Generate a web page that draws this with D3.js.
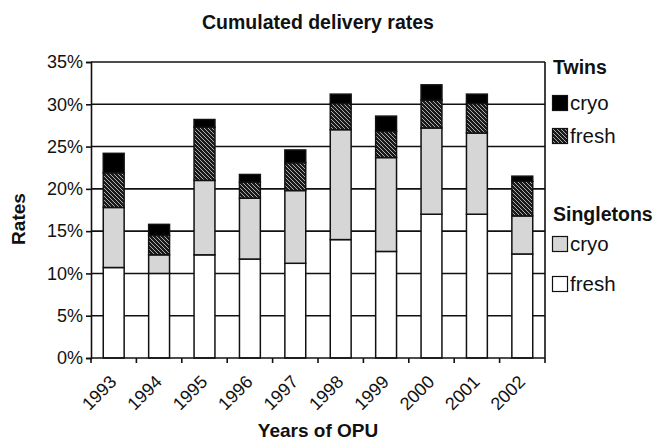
<!DOCTYPE html>
<html>
<head>
<meta charset="utf-8">
<script src="https://cdn.jsdelivr.net/npm/d3@7"></script>
<style>
  body { margin: 0; background: #fff; }
  svg { display: block; }
  text { font-family: "Liberation Sans", Arial, sans-serif; fill: #111; }
</style>
</head>
<body>
<svg id="chart" width="655" height="440"></svg>
<script>
// ---- data (percent) ----
const years = ["1993","1994","1995","1996","1997","1998","1999","2000","2001","2002"];
const singletonsFresh = [10.7, 10.0, 12.2, 11.7, 11.2, 14.0, 12.6, 17.0, 17.0, 12.3];
const singletonsCryo  = [7.1, 2.2, 8.8, 7.2, 8.6, 13.0, 11.1, 10.2, 9.6, 4.5];
const twinsFresh      = [4.1, 2.3, 6.3, 1.9, 3.3, 3.1, 3.1, 3.3, 3.5, 4.1];
const twinsCryo       = [2.3, 1.3, 0.9, 0.9, 1.5, 1.1, 1.8, 1.8, 1.1, 0.6];
const yTicks = [0, 5, 10, 15, 20, 25, 30, 35];
const seriesKeys = ["sFresh", "sCryo", "tFresh", "tCryo"];

const rows = years.map((y, i) => ({
  year: y, sFresh: singletonsFresh[i], sCryo: singletonsCryo[i],
  tFresh: twinsFresh[i], tCryo: twinsCryo[i]
}));

const W = 655, H = 440;
const m = { left: 91, right: 110, top: 62, bottom: 82 };
const svg = d3.select("#chart");

const defs = svg.append("defs");
const pat = defs.append("pattern").attr("id", "hatch")
  .attr("patternUnits", "userSpaceOnUse").attr("width", 4).attr("height", 4);
pat.append("rect").attr("width", 4).attr("height", 4).attr("fill", "#1a1a1a");
pat.append("path").attr("d", "M-1,-1 L5,5 M-1,3 L1,5 M3,-1 L5,1")
  .attr("stroke", "#bdbdbd").attr("stroke-width", 0.9);

const fills = { sFresh: "#ffffff", sCryo: "#d6d6d6", tFresh: "url(#hatch)", tCryo: "#000000" };

const x = d3.scaleBand().domain(years).range([m.left, W - m.right]).padding(0);
const y = d3.scaleLinear().domain([0, 35]).range([H - m.bottom, m.top]);

// gridlines
svg.append("g").selectAll("line").data(yTicks.filter(d => d > 0)).join("line")
  .attr("x1", m.left).attr("x2", W - m.right)
  .attr("y1", d => y(d)).attr("y2", d => y(d))
  .attr("stroke", "#111").attr("stroke-width", 1.6);
// right border
svg.append("line").attr("x1", W - m.right).attr("x2", W - m.right)
  .attr("y1", y(35)).attr("y2", y(0)).attr("stroke", "#111").attr("stroke-width", 1.6);

// stacked bars
const stack = d3.stack().keys(seriesKeys)(rows);
const bw = x.bandwidth() * 0.46;
svg.append("g").selectAll("g").data(stack).join("g")
  .attr("fill", d => fills[d.key])
  .selectAll("rect").data(d => d).join("rect")
  .attr("x", d => x(d.data.year) + (x.bandwidth() - bw) / 2)
  .attr("width", bw)
  .attr("y", d => y(d[1]))
  .attr("height", d => y(d[0]) - y(d[1]))
  .attr("stroke", "#111").attr("stroke-width", 1.5);

// y axis
const yAxis = svg.append("g").attr("transform", `translate(${m.left},0)`)
  .call(d3.axisLeft(y).tickValues(yTicks).tickFormat(d => d + "%").tickSize(5).tickPadding(3));
yAxis.selectAll("path, line").attr("stroke", "#111").attr("stroke-width", 1.6);
yAxis.selectAll("text").attr("font-size", 18).attr("font-family", "Liberation Sans, Arial, sans-serif").attr("fill", "#111");

// x axis
const xAxis = svg.append("g").attr("transform", `translate(0,${H - m.bottom})`);
xAxis.append("line").attr("x1", m.left).attr("x2", W - m.right)
  .attr("stroke", "#111").attr("stroke-width", 1.6);
const bounds = years.map(d => x(d)).concat([x(years[years.length - 1]) + x.bandwidth()]);
xAxis.selectAll("line.tick").data(bounds).join("line").attr("class", "tick")
  .attr("x1", d => d).attr("x2", d => d).attr("y1", 0).attr("y2", 5)
  .attr("stroke", "#111").attr("stroke-width", 1.6);
xAxis.selectAll("text").data(years).join("text")
  .attr("transform", d => `translate(${x(d) + x.bandwidth() / 2 + 4},${25}) rotate(-45)`)
  .attr("text-anchor", "end").attr("font-size", 18).text(d => d);

// titles
svg.append("text").attr("x", 318).attr("y", 29).attr("text-anchor", "middle")
  .attr("font-size", 19.5).attr("font-weight", "bold").text("Cumulated delivery rates");
svg.append("text").attr("x", 318).attr("y", 437).attr("text-anchor", "middle")
  .attr("font-size", 19).attr("font-weight", "bold").text("Years of OPU");
svg.append("text").attr("transform", "translate(25,219) rotate(-90)").attr("text-anchor", "middle")
  .attr("font-size", 19).attr("font-weight", "bold").text("Rates");

// legend
const lg = svg.append("g");
const legendGroups = [
  { title: "Twins", ty: 74, items: [{ label: "cryo", key: "tCryo", cy: 103 }, { label: "fresh", key: "tFresh", cy: 136 }] },
  { title: "Singletons", ty: 221, items: [{ label: "cryo", key: "sCryo", cy: 244 }, { label: "fresh", key: "sFresh", cy: 284 }] }
];
legendGroups.forEach(g => {
  lg.append("text").attr("x", 553).attr("y", g.ty).attr("font-size", 19.5)
    .attr("font-weight", "bold").text(g.title);
  g.items.forEach(it => {
    lg.append("rect").attr("x", 552.5).attr("y", it.cy - 7.5).attr("width", 15).attr("height", 15)
      .attr("fill", fills[it.key]).attr("stroke", "#111").attr("stroke-width", 1.2);
    lg.append("text").attr("x", 570).attr("y", it.cy + 7).attr("font-size", 20.5).text(it.label);
  });
});
</script>
</body>
</html>
